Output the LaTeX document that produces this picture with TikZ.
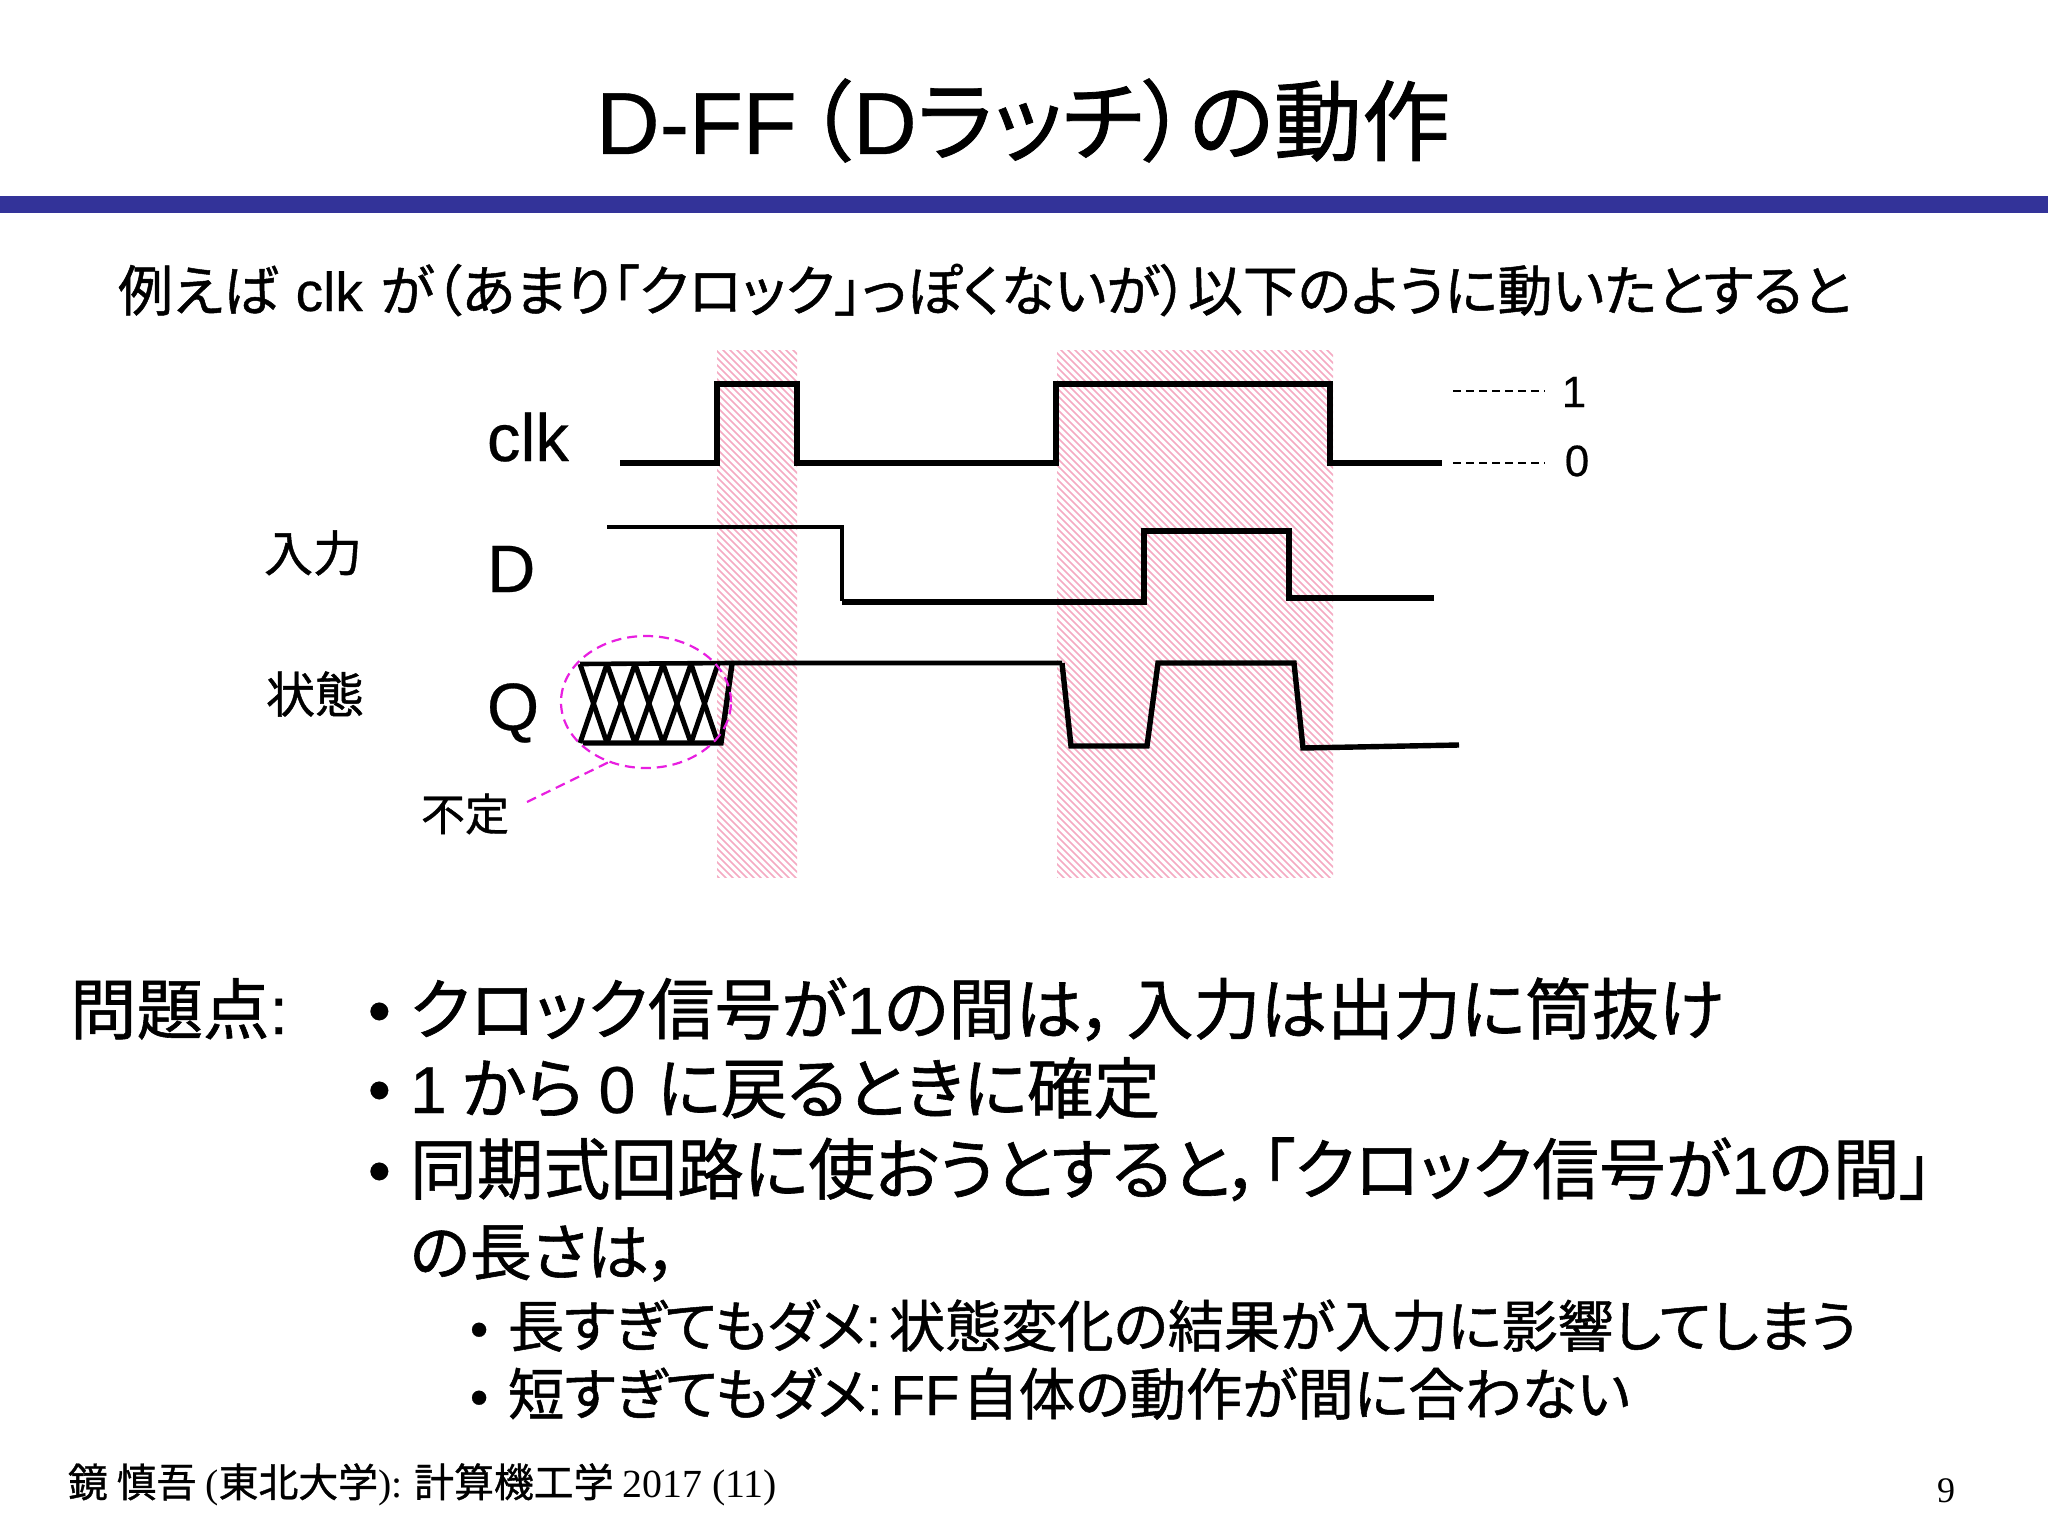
\documentclass[tikz,border=0pt]{standalone}
\usepackage{fontspec}
\usepackage{graphicx}
\usetikzlibrary{shapes.geometric}
\setmainfont{Noto Sans CJK JP}[RawFeature={+palt;embolden=0.9}]
\newfontfamily\latf{Liberation Sans}[RawFeature={embolden=0.4}]
\newfontfamily\serf{Liberation Serif}
\newcommand{\lat}[1]{{\latf #1}}
\newcommand{\ser}[1]{{\serf #1}}
\newcommand{\fitw}[2]{\resizebox{#1pt}{!}{\fontsize{50}{60}\selectfont #2}}
\definecolor{barblue}{HTML}{333399}
\definecolor{hatchpink}{HTML}{F5AAC2}
\definecolor{magentaline}{HTML}{E81FE0}
\tikzset{
  txt/.style={inner sep=0pt,outer sep=0pt,anchor=base west,text=black},
  ctr/.style={inner sep=0pt,outer sep=0pt,anchor=center,text=black},
  wave/.style={line width=5.4pt,line join=miter,draw=black},
  xwave/.style={line width=5pt,draw=black},
  lvl/.style={line width=1.8pt,draw=black,dash pattern=on 8pt off 5pt},
  mag/.style={line width=2.2pt,draw=magentaline,dash pattern=on 10pt off 6pt},
  hatch/.style={line width=1.5pt,draw=hatchpink}
}
\begin{document}
\begin{tikzpicture}[x=1pt,y=-1pt]
\useasboundingbox (0,0) rectangle (2048,1536);
\fill[white] (0,0) rectangle (2048,1536);
% hatching
\begin{scope}
\clip (717,350) rectangle (797,877);
\foreach \s in {-100,-93,...,1000}{\draw[hatch] (700,\s) -- ++(560,560);}
\end{scope}
\begin{scope}
\clip (1057,350) rectangle (1333,877);
\foreach \s in {-350,-343,...,1000}{\draw[hatch] (1040,\s) -- ++(800,800);}
\end{scope}
% title and bar
\node[txt] (title) at (596,154) {\fitw{854}{\lat{D-FF}\kern.12em（\kern.02em\lat{D}ラッチ）\kern.02emの動作}};
\fill[barblue] (0,196) rectangle (2048,213);
\node[txt] (sub) at (118,311) {\fitw{1733}{例えば\kern.32em\lat{clk}\kern.32emが（あまり「クロック」っぽくないが）以下のように動いたとすると}};
% signal labels
\node[txt] (clkl) at (487,461) {\fontsize{67}{70}\selectfont\lat{clk}};
\node[txt] (dl) at (487,592) {\fontsize{67}{70}\selectfont\lat{D}};
\node[txt] (ql) at (487,730) {\fontsize{67}{70}\selectfont\lat{Q}};
\node[ctr] (inl) at (313,553) {\fontsize{49}{52}\selectfont 入力};
\node[ctr] (stl) at (315,694) {\fontsize{49}{52}\selectfont 状態};
\node[ctr] (unk) at (465,814) {\fontsize{44}{48}\selectfont 不定};
\node[ctr] (one) at (1574,392) {\fontsize{44}{48}\selectfont\lat{1}};
\node[ctr] (zero) at (1577,461) {\fontsize{44}{48}\selectfont\lat{0}};
% waves
\draw[wave] (620,463) -- (717,463) -- (717,384) -- (797,384) -- (797,463) -- (1056,463) -- (1056,384) -- (1330,384) -- (1330,463) -- (1442,463);
\draw[wave,line width=4.4pt] (607,527) -- (842,527) -- (842,601);
\draw[wave] (842,602) -- (1144,602) -- (1144,531) -- (1289,531) -- (1289,598) -- (1434,598);
\draw[wave] (583,743) -- (721,743) -- (732,664);
\draw[wave,line width=4.6pt] (580,664) -- (732,663) -- (1062,663);
\draw[wave] (1062,663) -- (1071,746) -- (1147,746) -- (1158,663) -- (1294,663) -- (1303,748) -- (1459,745);
\foreach \a/\b in {580/607,607/635,635/663,663/691,691/718}{
  \draw[xwave] (\a,664) -- (\b,743);
  \draw[xwave] (\b,664) -- (\a,743);
}
% level markers
\coordinate (l1a) at (1453,391); \coordinate (l1b) at (1545,391);
\coordinate (l0a) at (1453,463); \coordinate (l0b) at (1545,463);
\draw[lvl] (l1a) -- (l1b);
\draw[lvl] (l0a) -- (l0b);
% unknown marker
\node[draw=magentaline,line width=2.2pt,dash pattern=on 10pt off 6pt,ellipse,inner sep=0pt,minimum width=170pt,minimum height=132pt] (unkell) at (646,702) {};
\coordinate (unkend) at (527,802);
\draw[mag] (unkend) -- (unkell.238);
% problems
\node[txt] (prob) at (70,1034) {\fitw{218}{問題点\lat{:}}};
\node[txt] (b1) at (368,1033) {\fontsize{65}{70}\selectfont\lat{•}};
\node[txt] (t1) at (410,1034) {\fitw{1314}{クロック信号が\lat{1}の間は，\,入力は出力に筒抜け}};
\node[txt] (b2) at (368,1112) {\fontsize{65}{70}\selectfont\lat{•}};
\node[txt] (t2) at (410,1113) {\fitw{750}{\lat{1} から \lat{0} \kern.1emに戻るときに確定}};
\node[txt] (b3) at (368,1193) {\fontsize{65}{70}\selectfont\lat{•}};
\node[txt] (t3) at (410,1194) {\fitw{1523}{同期式回路に使おうとすると，「クロック信号が\lat{1}の間」}};
\node[txt] (t4) at (410,1275) {\fitw{270}{の長さは，}};
\node[txt] (b4) at (470,1347) {\fontsize{52}{56}\selectfont\lat{•}};
\node[txt] (s1) at (508,1347) {\fitw{1349}{長すぎてもダ\kern-.04emメ\lat{:}\kern.14em状態変化の結果が入力に影響してしまう}};
\node[txt] (b5) at (470,1415) {\fontsize{52}{56}\selectfont\lat{•}};
\node[txt] (s2) at (508,1415) {\fitw{1122}{短すぎてもダ\kern-.04emメ\lat{:}\kern.14em\lat{FF}\kern.05em自体の動作が間に合わない}};
% footer
\node[txt] (foot) at (68,1497) {\fitw{709}{鏡 慎吾 \ser{(}東北大学\ser{):} 計算機工学 \ser{2017 (11)}}};
\node[ctr] (page) at (1946,1491) {\fontsize{36}{40}\selectfont\ser{9}};
\end{tikzpicture}
\end{document}
